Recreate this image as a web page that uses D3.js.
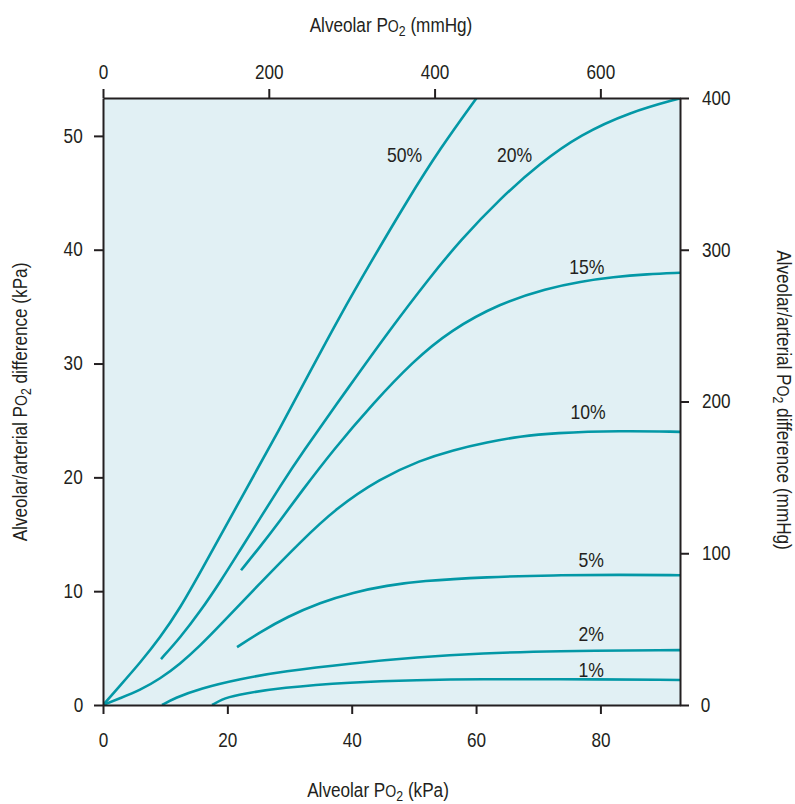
<!DOCTYPE html>
<html>
<head>
<meta charset="utf-8">
<script src="https://cdn.jsdelivr.net/npm/d3@7"></script>
<style>
  body { margin: 0; background: #fff; }
  text {
    font-family: "Liberation Sans", Arial, sans-serif;
    fill: #231f20;
    transform-box: fill-box;
    transform-origin: center;
    transform: scaleX(0.88);
  }
</style>
</head>
<body>
<svg id="chart" width="795" height="804"></svg>
<script>
// curves: [alveolar PO2 kPa, A-a difference kPa]
var curve50 = [[0,0],[2.74,1.7],[5.95,3.7],[9.17,5.9],[12.39,8.5],[15.61,11.6],[22.04,18.0],[28.48,24.3],[33.31,29.3],[38.13,34.2],[42.96,38.8],[48.91,44.3],[54.22,48.9],[60.18,53.4]];
var curve20 = [[9.33,4.04],[12.39,5.9],[15.61,8.2],[18.83,10.8],[22.04,13.6],[25.26,16.4],[28.48,19.2],[31.70,21.9],[39.74,28.1],[46.18,33.0],[52.61,37.6],[57.44,40.8],[63.88,44.5],[70.31,47.6],[76.75,50.1],[84.79,52.1],[92.8,53.3]];
var curve15 = [[22.20,11.84],[25.26,13.9],[28.48,16.2],[31.70,18.6],[37.01,22.4],[43.44,26.5],[49.88,30.2],[55.83,32.9],[63.88,35.3],[71.44,36.6],[76.75,37.2],[82.06,37.6],[87.53,37.85],[92.8,37.98]];
var curve10 = [[0,0],[2.74,0.6],[5.95,1.3],[9.17,2.3],[12.39,3.6],[15.61,5.2],[18.83,7.0],[25.26,10.7],[31.70,14.3],[37.5,17.3],[44.57,19.9],[51.01,21.5],[56.32,22.4],[61.79,23.1],[67.10,23.6],[72.41,23.9],[83.19,24.1],[92.8,24.0]];
var curve5 = [[21.56,5.09],[25.26,6.4],[29.61,7.75],[34.92,9.0],[40.23,9.9],[45.70,10.5],[51.01,10.9],[61.79,11.25],[72.41,11.4],[83.19,11.45],[92.8,11.4]];
var curve2 = [[9.49,0],[11.58,0.62],[15.61,1.45],[22.04,2.3],[28.96,2.95],[39.74,3.65],[50.52,4.2],[61.14,4.55],[71.92,4.74],[92.8,4.82]];
var curve1 = [[17.54,0],[19.15,0.5],[20.92,0.85],[28.96,1.55],[39.74,2.0],[50.52,2.2],[61.14,2.28],[71.92,2.28],[92.8,2.2]];

var seriesNames = ["50%", "20%", "15%", "10%", "5%", "2%", "1%"];
var seriesData = [curve50, curve20, curve15, curve10, curve5, curve2, curve1];
// where each label sits (kPa coords, baseline)
var labelPos = [[48.5,47.7],[66.2,47.7],[77.8,37.9],[78.0,25.1],[78.5,12.1],[78.5,5.6],[78.5,2.5]];

var kpaTicksX = [0, 20, 40, 60, 80];
var kpaTicksY = [0, 10, 20, 30, 40, 50];
var mmTicksX = [0, 200, 400, 600];
var mmTicksY = [0, 100, 200, 300, 400];

var MM = 7.50062;
var xMax = 92.8, yMaxMm = 400;

var svg = d3.select("#chart");
var margin = {left: 103, top: 98, right: 115, bottom: 99};
var width = 795 - margin.left - margin.right,
    height = 804 - margin.top - margin.bottom;

var x = d3.scaleLinear().domain([0, xMax]).range([0, width]);
var xMm = d3.scaleLinear().domain([0, xMax * MM]).range([0, width]);
var y = d3.scaleLinear().domain([0, yMaxMm / MM]).range([height, 0]);
var yMm = d3.scaleLinear().domain([0, yMaxMm]).range([height, 0]);

var g = svg.append("g").attr("transform", "translate(" + margin.left + "," + margin.top + ")");

g.append("rect")
  .attr("width", width).attr("height", height)
  .attr("fill", "#e1f0f4");

var line = d3.line()
  .x(function(d) { return x(d[0]); })
  .y(function(d) { return y(d[1]); })
  .curve(d3.curveBasis);

g.append("defs").append("clipPath").attr("id", "clip")
  .append("rect").attr("width", width).attr("height", height);

g.append("g").attr("clip-path", "url(#clip)")
  .selectAll("path")
  .data(seriesData)
  .enter().append("path")
  .attr("d", line)
  .attr("fill", "none")
  .attr("stroke", "#0398a6")
  .attr("stroke-width", 2.6);

g.selectAll(".curve-label")
  .data(seriesNames)
  .enter().append("text")
  .attr("class", "curve-label")
  .attr("x", function(d, i) { return x(labelPos[i][0]); })
  .attr("y", function(d, i) { return y(labelPos[i][1]); })
  .attr("text-anchor", "middle")
  .style("font-size", "20px")
  .text(function(d) { return d; });

// axes
function styleAxis(sel) {
  sel.select(".domain").attr("stroke", "#231f20").attr("stroke-width", 2);
  sel.selectAll(".tick line").attr("stroke", "#231f20").attr("stroke-width", 2);
  sel.selectAll(".tick text").style("font-size", "19.5px").attr("fill", "#231f20");
}

g.append("g").attr("transform", "translate(0," + height + ")")
  .call(d3.axisBottom(x).tickValues(kpaTicksX).tickSize(9).tickSizeOuter(0).tickPadding(19))
  .call(styleAxis);

g.append("g")
  .call(d3.axisTop(xMm).tickValues(mmTicksX).tickSize(9).tickSizeOuter(0).tickPadding(10))
  .call(styleAxis);

g.append("g")
  .call(d3.axisLeft(y).tickValues(kpaTicksY).tickSize(9).tickSizeOuter(0).tickPadding(10))
  .call(styleAxis);

g.append("g").attr("transform", "translate(" + width + ",0)")
  .call(d3.axisRight(yMm).tickValues(mmTicksY).tickSize(9).tickSizeOuter(0).tickPadding(11))
  .call(styleAxis);

// titles with PO2 notation
function po2Title(sel, before, after) {
  sel.append("tspan").text(before + "P");
  sel.append("tspan").style("font-size", "16px").text("O");
  sel.append("tspan").style("font-size", "14px").attr("dy", 4).text("2");
  sel.append("tspan").attr("dy", -4).text(after);
}

svg.append("text")
  .attr("x", 391).attr("y", 32)
  .attr("text-anchor", "middle")
  .style("font-size", "19.5px")
  .call(po2Title, "Alveolar ", " (mmHg)");

svg.append("text")
  .attr("x", 378).attr("y", 797)
  .attr("text-anchor", "middle")
  .style("font-size", "19.5px")
  .call(po2Title, "Alveolar ", " (kPa)");

svg.append("g")
  .attr("transform", "translate(27,402) rotate(-90)")
  .append("text")
  .attr("text-anchor", "middle")
  .style("font-size", "19.5px")
  .call(po2Title, "Alveolar/arterial ", " difference (kPa)");

svg.append("g")
  .attr("transform", "translate(777,400) rotate(90)")
  .append("text")
  .attr("text-anchor", "middle")
  .style("font-size", "19.5px")
  .call(po2Title, "Alveolar/arterial ", " difference (mmHg)");
</script>
</body>
</html>
